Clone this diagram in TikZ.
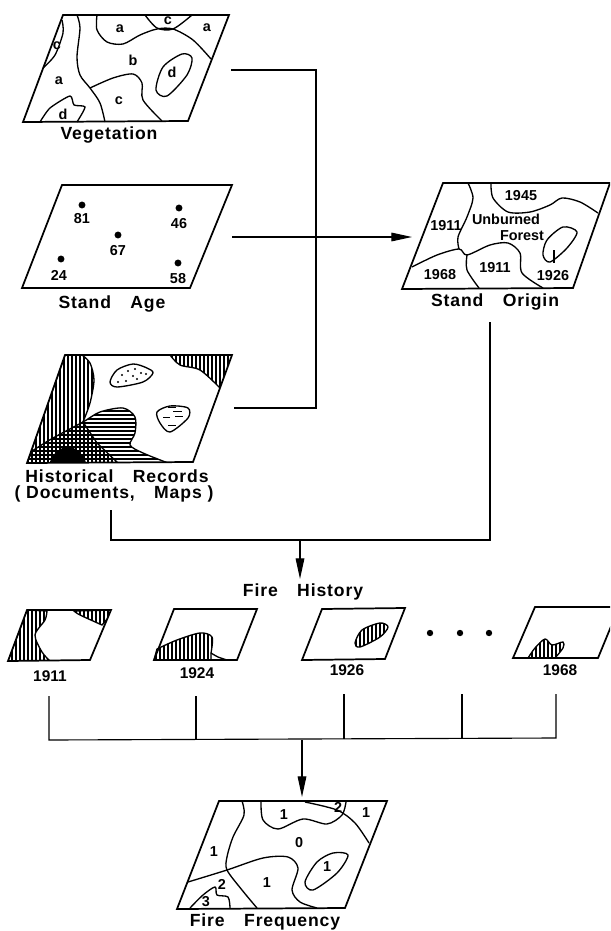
\documentclass[tikz,border=0pt]{standalone}
\usepackage{fontspec}
\setmainfont{Liberation Sans}
\newfontfamily\titlefont[LetterSpace=5,BoldFont={Liberation Sans Bold}]{Liberation Sans}
\usetikzlibrary{arrows.meta,patterns.meta}

\begin{document}
\begin{tikzpicture}[
  x=0.75pt, y=-0.75pt,
  mapbox/.style={draw, line width=1.3pt, line join=miter},
  curve/.style={draw, line width=1pt},
  vhatch/.style={pattern={Lines[angle=90,distance=3pt,line width=0.85pt]}},
  hhatch/.style={pattern={Lines[angle=0,distance=3pt,line width=0.8pt]}},
  lab/.style={font=\bfseries\fontsize{10.8}{12}\selectfont, inner sep=0pt},
  title/.style={font=\titlefont\bfseries\fontsize{13.2}{15}\selectfont, inner sep=0pt},
  year/.style={font=\bfseries\fontsize{11.6}{13}\selectfont, inner sep=0pt},
  line/.style={draw, line width=0.85pt},
  arr/.style={draw, line width=0.85pt, -{Triangle[length=15.5pt,width=6.5pt]}}
]
\clip (0,0) rectangle (610,931);

\draw[mapbox] (63,15) -- (229,15) -- (188,121) -- (23,122) -- cycle;
\draw[curve] plot[smooth] coordinates {(62,20) (63,33) (55,55) (43,68)};
\draw[curve] plot[smooth] coordinates {(77,15) (80,28) (77,57) (80,75) (90,88) (100,103) (105,122)};
\draw[curve] plot[smooth] coordinates {(97,15) (97,30) (107,42) (123,44) (140,35) (157,29) (173,29) (193,40) (211,59)};
\draw[curve] plot[smooth] coordinates {(145,15) (157,28) (173,29) (192,15)};
\draw[curve] plot[smooth] coordinates {(90,88) (113,78) (133,74) (142,83) (143,100) (162,121)};
\draw[curve] plot[smooth cycle] coordinates {(182,54) (192,58) (187,75) (167,96) (156,90) (163,67)};
\draw[curve] plot[smooth, tension=0.4] coordinates {(40,122) (50,108) (70,96) (74,105) (85,107) (77,122)};
\node[lab] (va1) at (120,29) {a};
\node[lab] (vc1) at (168,21) {c};
\node[lab] (va2) at (207,28) {a};
\node[lab] (vc2) at (57,46) {c};
\node[lab] (vb) at (133,60) {b};
\node[lab] (vd1) at (172,72) {d};
\node[lab] (va3) at (59,81) {a};
\node[lab] (vc3) at (119,101) {c};
\node[lab] (vd2) at (63,114) {d};
\node[title] (veg) at (109,135) {Vegetation};

\draw[mapbox] (62,185) -- (232,185) -- (190,288) -- (22,288) -- cycle;
\foreach \x/\y in {82/205, 179/208, 118/235, 61/259, 178/263}
  \fill (\x,\y) circle (2.6pt);
\node[lab] (a81) at (82,219) {81};
\node[lab] (a46) at (179,224) {46};
\node[lab] (a67) at (118,251) {67};
\node[lab] (a24) at (59,275) {24};
\node[lab] (a58) at (178,279) {58};
\node[title] (age) at (112,304) {Stand\hspace{1.1em}Age};

\begin{scope}
\clip (65,355) -- (232,355) -- (193,462) -- (27,463) -- cycle;
\filldraw[curve, vhatch] (65,355) -- plot[smooth] coordinates {(82,355) (90,363) (94,380) (90,403) (83,422)}
  -- (97,443) -- (118,463) -- (27,463) -- cycle;
\filldraw[curve, hhatch] (27,463) -- plot[smooth] coordinates {(32,451) (53,438) (83,422) (100,412) (123,408) (135,417) (135,433) (130,445) (143,453) (168,463)}
  -- cycle;
\filldraw[curve] plot[smooth] coordinates {(50,463) (57,452) (70,447) (83,457) (85,463)} -- cycle;
\filldraw[curve, vhatch] plot[smooth] coordinates {(170,355) (180,365) (200,370) (220,388)} -- (240,355) -- cycle;
\end{scope}
\draw[mapbox] (65,355) -- (232,355) -- (193,462) -- (27,463) -- cycle;
\draw[curve] plot[smooth cycle] coordinates {(133,364) (147,368) (153,373) (143,382) (117,387) (110,382) (117,370)};
\foreach \x/\y in {122/375, 128/371, 135/369, 141/373, 146/374, 133/376, 126/381, 118/382, 137/379}
  \fill (\x,\y) circle (0.8pt);
\draw[curve] plot[smooth cycle] coordinates {(170,406) (188,408) (188,418) (170,432) (160,423) (157,412)};
\foreach \x/\xx/\y in {168/176/407, 173/182/411, 163/170/417, 175/183/416, 168/176/425}
  \draw[line width=0.7pt] (\x,\y) -- (\xx,\y);
\node[title] (hist) at (117,476) {Historical\hspace{1.1em}Records};
\node[title] (docs) at (114,494) {( Documents,\hspace{1.1em}Maps )};

\draw[mapbox] (443,183) -- (610,183) -- (573,288) -- (402,289) -- cycle;
\draw[curve] plot[smooth] coordinates {(468,183) (473,198) (467,217) (458,237) (459,249)};
\draw[curve] plot[smooth] coordinates {(412,267) (437,255) (459,249) (467,255) (490,245) (508,243) (520,253) (522,273) (543,288)};
\draw[curve] plot[smooth] coordinates {(467,255) (467,270) (479,288)};
\draw[curve] plot[smooth] coordinates {(491,183) (493,198) (508,212) (530,212) (550,205) (562,198) (580,202) (598,213)};
\draw[curve] plot[smooth cycle] coordinates {(563,227) (577,232) (567,248) (550,262) (543,255) (547,240)};
\coordinate (tick1) at (554,250);
\coordinate (tick2) at (554,263);
\draw[curve] (tick1) -- (tick2);
\node[lab] (y1945) at (521,196) {1945};
\node[lab] (y1911a) at (446,226) {1911};
\node[lab] (unb) at (506,219) {Unburned};
\node[lab] (fst) at (522,236) {Forest};
\node[lab] (y1968) at (440,275) {1968};
\node[lab] (y1911b) at (495,268) {1911};
\node[lab] (y1926) at (553,276) {1926};
\node[title] (origin) at (495,302) {Stand\hspace{1.1em}Origin};

\coordinate (vegout) at (231,70);
\coordinate (histout) at (234,408);
\coordinate (corner1) at (316,70);
\coordinate (corner2) at (316,408);
\coordinate (ageout) at (232,237);
\coordinate (originin) at (412,237);
\draw[line] (vegout) -- (corner1) -- (corner2) -- (histout);
\draw[arr] (ageout) -- (originin);

\coordinate (docsout) at (111,510);
\coordinate (originout) at (490,322);
\coordinate (corner3) at (111,540);
\coordinate (corner4) at (490,540);
\coordinate (histtop) at (300,540);
\coordinate (histin) at (300,579);
\draw[line] (docsout) -- (corner3) -- (corner4) -- (originout);
\draw[arr] (histtop) -- (histin);
\node[title] (fire) at (303,592) {Fire\hspace{1.1em}History};

\begin{scope}
\clip (27,610) -- (111,610) -- (90,660) -- (8,661) -- cycle;
\filldraw[curve, vhatch] (27,610) -- plot[smooth] coordinates {(47,611) (45,620) (35,635) (42,652) (50,661)} -- (8,661) -- cycle;
\filldraw[curve, vhatch] plot[smooth] coordinates {(74,611) (80,615) (102,625)} -- (115,610) -- cycle;
\end{scope}
\draw[mapbox] (27,610) -- (111,610) -- (90,660) -- (8,661) -- cycle;
\node[year] (f1911) at (50,676) {1911};

\filldraw[curve, vhatch] (154,660) -- plot[smooth] coordinates {(157,649) (177,640) (200,633) (212,637) (211,653)} -- (211,660) -- cycle;
\draw[curve] plot[smooth] coordinates {(211,653) (218,657) (227,660)};
\draw[mapbox] (174,609) -- (257,609) -- (237,660) -- (154,660) -- cycle;
\node[year] (f1924) at (197,673) {1924};

\draw[mapbox] (322,609) -- (405,608) -- (385,659) -- (302,660) -- cycle;
\filldraw[curve, vhatch] plot[smooth cycle] coordinates {(380,623) (388,627) (380,637) (360,647) (355,643) (362,630)};
\node[year] (f1926) at (347,670) {1926};

\foreach \x in {430,460,489}
  \fill (\x,633) circle (2.4pt);

\draw[mapbox] (535,607) -- (619,607) -- (598,658) -- (513,658) -- cycle;
\filldraw[curve, vhatch] plot[smooth, tension=0.5] coordinates {(528,658) (535,648) (545,639) (552,645) (563,642) (563,648) (555,658)} -- cycle;
\node[year] (f1968) at (560,670) {1968};

\coordinate (t1) at (49,696);
\coordinate (t2) at (196,696);
\coordinate (t3) at (344,694);
\coordinate (t4) at (462,694);
\coordinate (t5) at (556,694);
\coordinate (b1) at (49,740);
\coordinate (b2) at (196,740);
\coordinate (b3) at (344,739);
\coordinate (b4) at (462,738);
\coordinate (b5) at (556,738);
\draw[line] (t1) -- (b1) -- (b5) -- (t5);
\draw[line] (t2) -- (b2);
\draw[line] (t3) -- (b3);
\draw[line] (t4) -- (b4);
\coordinate (freqtop) at (302,740);
\coordinate (freqin) at (302,797);
\draw[arr] (freqtop) -- (freqin);

\draw[mapbox] (219,801) -- (387,801) -- (345,908) -- (177,909) -- cycle;
\draw[curve] plot[smooth] coordinates {(242,801) (244,815) (233,837) (227,857) (227,870) (242,890) (257,908)};
\draw[curve] plot[smooth] coordinates {(188,882) (227,870) (263,858) (288,857) (298,868) (292,890) (300,902) (317,908)};
\draw[curve] plot[smooth] coordinates {(261,801) (263,820) (278,829) (303,819) (327,824) (342,815) (346,802)};
\draw[curve] plot[smooth] coordinates {(305,802) (337,810) (355,823) (369,843)};
\draw[curve] plot[smooth cycle] coordinates {(333,853) (348,855) (337,873) (313,890) (305,882) (317,862)};
\draw[curve] plot[smooth, tension=0.5] coordinates {(190,908) (203,895) (215,887) (217,895) (228,897) (230,908)};
\node[lab] (q1a) at (284,815) {1};
\node[lab] (q2a) at (338,807) {2};
\node[lab] (q1b) at (366,813) {1};
\node[lab] (q0) at (299,843) {0};
\node[lab] (q1c) at (214,852) {1};
\node[lab] (q1d) at (327,867) {1};
\node[lab] (q1e) at (267,883) {1};
\node[lab] (q2b) at (222,884) {2};
\node[lab] (q3) at (206,902) {3};
\node[title] (freq) at (265,922) {Fire\hspace{1.1em}Frequency};
\end{tikzpicture}
\end{document}
